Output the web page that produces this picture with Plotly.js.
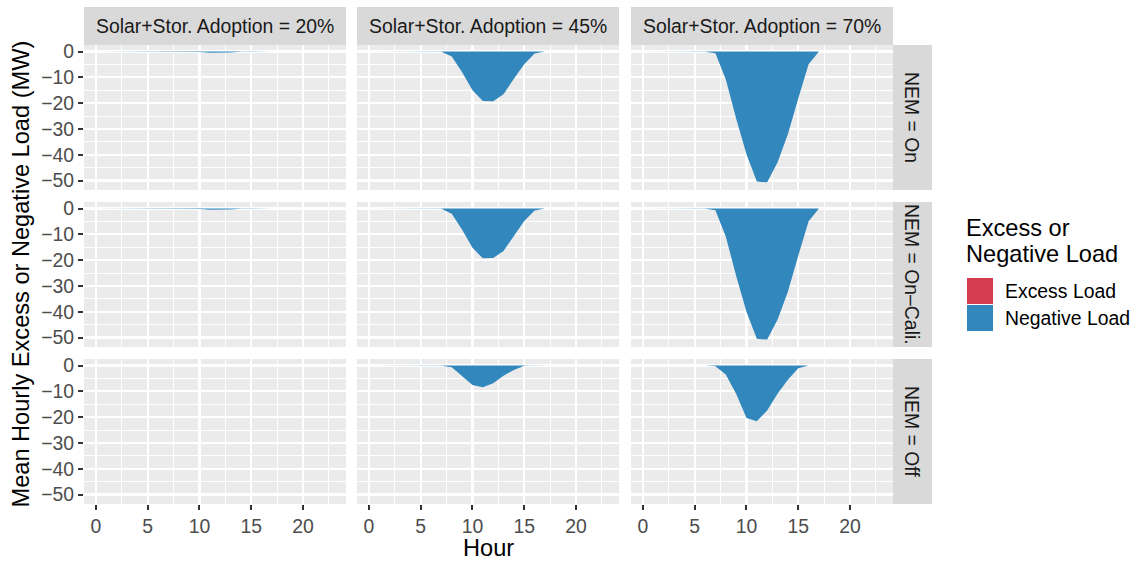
<!DOCTYPE html>
<html>
<head>
<meta charset="utf-8">
<script src="https://cdn.plot.ly/plotly-3.0.1.min.js"></script>
<style>html,body{margin:0;padding:0;background:#fff;}#chart{width:1132px;height:561px;}</style>
</head>
<body>
<div id="chart"></div>
<script>
// ---- data ----
const hours = [0,1,2,3,4,5,6,7,8,9,10,11,12,13,14,15,16,17,18,19,20,21,22,23];
const adoptionLabels = ["Solar+Stor. Adoption = 20%", "Solar+Stor. Adoption = 45%", "Solar+Stor. Adoption = 70%"];
const nemLabels = ["NEM = On", "NEM = On\u2013Cali.", "NEM = Off"];
const seriesNames = ["Excess Load", "Negative Load"];
const seriesColors = ["#D53E4F", "#3288BD"];

// Negative load (MW) per hour, one array per facet
const neg_20_on   = [0,0,0,0,0,0,0,0,0,0,-0.2,-0.45,-0.5,-0.35,-0.1,0,0,0,0,0,0,0,0,0];
const neg_20_cali = [0,0,0,0,0,0,0,0,0,0,-0.2,-0.45,-0.5,-0.35,-0.1,0,0,0,0,0,0,0,0,0];
const neg_20_off  = [0,0,0,0,0,0,0,0,0,0,-0.02,-0.05,-0.04,0,0,0,0,0,0,0,0,0,0,0];
const neg_45_on   = [0,0,0,0,0,0,0,-0.1,-1.9,-8.0,-15.0,-19.2,-19.3,-16.5,-10.5,-4.9,-0.7,0,0,0,0,0,0,0];
const neg_45_cali = [0,0,0,0,0,0,0,-0.1,-2.0,-8.2,-15.2,-19.3,-19.2,-16.4,-10.6,-4.8,-0.7,0,0,0,0,0,0,0];
const neg_45_off  = [0,0,0,0,0,0,0,-0.05,-0.6,-4.2,-7.5,-8.4,-6.8,-3.9,-1.7,-0.1,0,0,0,0,0,0,0,0];
const neg_70_on   = [0,0,0,0,0,0,-0.05,-0.6,-10.7,-25.9,-39.8,-50.4,-50.7,-43.0,-32.0,-18.2,-4.9,0,0,0,0,0,0,0];
const neg_70_cali = [0,0,0,0,0,0,-0.05,-0.6,-10.8,-26.0,-40.0,-50.5,-50.8,-43.1,-32.2,-18.3,-4.9,0,0,0,0,0,0,0];
const neg_70_off  = [0,0,0,0,0,0,0,-0.3,-3.5,-10.9,-20.3,-21.6,-17.4,-10.9,-5.5,-1.0,0,0,0,0,0,0,0,0];
// Excess load (MW) per hour (none visible)
const exc_zero    = [0,0,0,0,0,0,0,0,0,0,0,0,0,0,0,0,0,0,0,0,0,0,0,0];

const negGrid = [
  [neg_20_on,   neg_45_on,   neg_70_on],
  [neg_20_cali, neg_45_cali, neg_70_cali],
  [neg_20_off,  neg_45_off,  neg_70_off]
];
const excGrid = [
  [exc_zero, exc_zero, exc_zero],
  [exc_zero, exc_zero, exc_zero],
  [exc_zero, exc_zero, exc_zero]
];
const xTicks = [0,5,10,15,20];
const yTicks = [0,-10,-20,-30,-40,-50];
const legendTitleLines = ["Excess or", "Negative Load"];

// ---- layout geometry ----
const W = 1132, H = 561;
const fx = x => x / W;
const fy = y => 1 - y / H;
const cols = [[84,346],[357,619],[631,893]];
const rows = [[45,190],[202,347],[359,504]];
const SMALL = 19.4, BIG = 23.6;
const FONT = "Liberation Sans, Arial, Helvetica, sans-serif";

const traces = [];
const layout = {
  width: W, height: H, autosize: false,
  margin: {l:0, r:0, t:0, b:0},
  paper_bgcolor: "#FFFFFF", plot_bgcolor: "#EBEBEB",
  font: {family: FONT, size: SMALL, color: "#4D4D4D"},
  showlegend: false,
  shapes: [], annotations: []
};

for (let r = 0; r < 3; r++) {
  for (let c = 0; c < 3; c++) {
    const p = r * 3 + c + 1;
    const xa = "x" + p, ya = "y" + p;
    const xk = "xaxis" + p, yk = "yaxis" + p;
    [excGrid[r][c], negGrid[r][c]].forEach((vals, s) => {
      traces.push({
        type: "scatter", mode: "lines", x: hours, y: vals,
        xaxis: xa, yaxis: ya, fill: "tozeroy",
        fillcolor: seriesColors[s], line: {width: 0, color: seriesColors[s]},
        name: seriesNames[s], hoverinfo: "skip"
      });
    });
    const bottom = (r === 2), left = (c === 0);
    layout[xk] = {
      domain: [fx(cols[c][0]), fx(cols[c][1])], anchor: ya,
      range: [-1.15, 24.15], tickmode: "array", tickvals: xTicks,
      showticklabels: bottom, ticks: bottom ? "outside" : "",
      ticklen: 5, tickwidth: 2, tickcolor: "#333333",
      tickfont: {family: FONT, size: SMALL, color: "#4D4D4D"},
      showgrid: true, gridcolor: "#FFFFFF", gridwidth: 2.2,
      minor: {dtick: 2.5, tick0: 0, showgrid: true, gridcolor: "#FFFFFF", gridwidth: 1.1},
      zeroline: false, showline: false, fixedrange: true
    };
    layout[yk] = {
      domain: [fy(rows[r][1]), fy(rows[r][0])], anchor: xa,
      range: [-53.66, 2.555], tickmode: "array", tickvals: yTicks,
      showticklabels: left, ticks: left ? "outside" : "",
      ticklen: 5, tickwidth: 2, tickcolor: "#333333",
      tickfont: {family: FONT, size: SMALL, color: "#4D4D4D"},
      showgrid: true, gridcolor: "#FFFFFF", gridwidth: 2.2,
      minor: {dtick: 5, tick0: 0, showgrid: true, gridcolor: "#FFFFFF", gridwidth: 1.1},
      zeroline: false, showline: false, fixedrange: true
    };
  }
}

// strips (top)
for (let c = 0; c < 3; c++) {
  layout.shapes.push({type: "rect", xref: "paper", yref: "paper",
    x0: fx(cols[c][0]), x1: fx(cols[c][1]), y0: fy(45), y1: fy(7),
    fillcolor: "#D9D9D9", line: {width: 0}, layer: "below"});
  layout.annotations.push({xref: "paper", yref: "paper",
    x: fx((cols[c][0] + cols[c][1]) / 2), y: fy(26), xanchor: "center", yanchor: "middle",
    text: adoptionLabels[c], showarrow: false,
    font: {family: FONT, size: SMALL, color: "#1A1A1A"}});
}
// strips (right)
for (let r = 0; r < 3; r++) {
  layout.shapes.push({type: "rect", xref: "paper", yref: "paper",
    x0: fx(893), x1: fx(932), y0: fy(rows[r][1]), y1: fy(rows[r][0]),
    fillcolor: "#D9D9D9", line: {width: 0}, layer: "below"});
  layout.annotations.push({xref: "paper", yref: "paper",
    x: fx(912.5), y: fy((rows[r][0] + rows[r][1]) / 2), xanchor: "center", yanchor: "middle",
    text: nemLabels[r], showarrow: false, textangle: 90,
    font: {family: FONT, size: SMALL, color: "#1A1A1A"}});
}
// axis titles
layout.annotations.push({xref: "paper", yref: "paper", x: fx(488.5), y: fy(548),
  xanchor: "center", yanchor: "middle", text: "Hour", showarrow: false,
  font: {family: FONT, size: BIG, color: "#000000"}});
layout.annotations.push({xref: "paper", yref: "paper", x: fx(20), y: fy(274.5),
  xanchor: "center", yanchor: "middle", text: "Mean Hourly Excess or Negative Load (MW)",
  showarrow: false, textangle: -90,
  font: {family: FONT, size: BIG, color: "#000000"}});
// legend
const titleY = [228, 254];
for (let i = 0; i < 2; i++) {
  layout.annotations.push({xref: "paper", yref: "paper", x: fx(964), y: fy(titleY[i]),
    xanchor: "left", yanchor: "middle", align: "left", text: legendTitleLines[i],
    showarrow: false, font: {family: FONT, size: BIG, color: "#000000"}});
}
const keyY = [[278,304],[305,331]];
for (let s = 0; s < 2; s++) {
  layout.shapes.push({type: "rect", xref: "paper", yref: "paper",
    x0: fx(967), x1: fx(993), y0: fy(keyY[s][1]), y1: fy(keyY[s][0]),
    fillcolor: seriesColors[s], line: {width: 0}});
  layout.annotations.push({xref: "paper", yref: "paper", x: fx(1003),
    y: fy((keyY[s][0] + keyY[s][1]) / 2), xanchor: "left", yanchor: "middle",
    text: seriesNames[s], showarrow: false,
    font: {family: FONT, size: SMALL, color: "#000000"}});
}

Plotly.newPlot("chart", traces, layout, {staticPlot: true, displayModeBar: false});
</script>
</body>
</html>
